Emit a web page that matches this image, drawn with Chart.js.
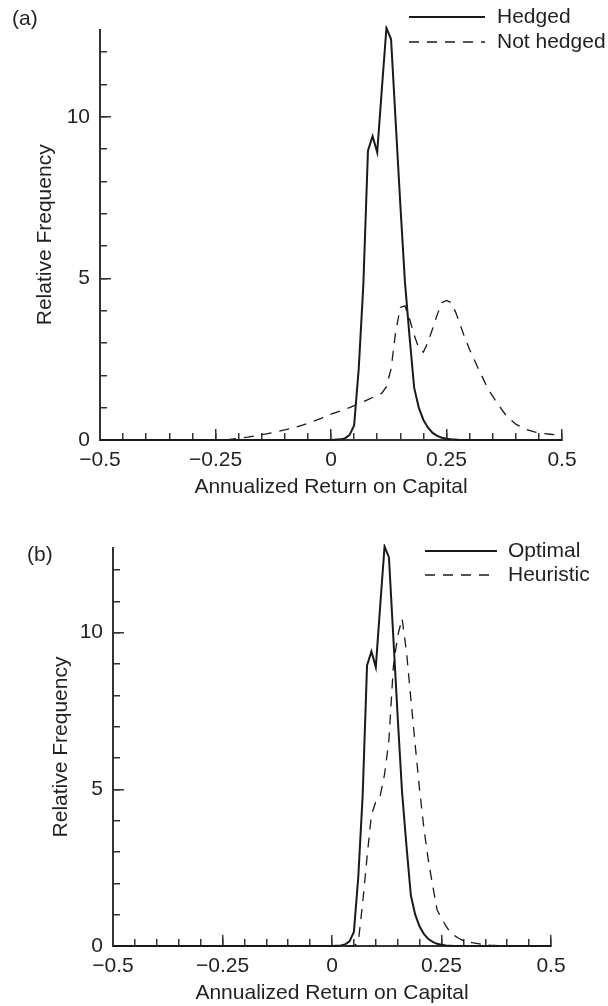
<!DOCTYPE html>
<html lang="en">
<head>
  <meta charset="utf-8" />
  <title>Annualized Return on Capital</title>
  <script src="https://cdn.jsdelivr.net/npm/chart.js@4.4.1/dist/chart.umd.min.js"></script>
  <style>
    html, body { margin: 0; padding: 0; background: #fff; }
    #wrap { position: relative; width: 608px; height: 1006px; }
    canvas { position: absolute; left: 0; }
    #chartA { top: 0; }
    #chartB { top: 500px; }
  </style>
</head>
<body>
<div id="wrap">
  <canvas id="chartA" width="608" height="500"></canvas>
  <canvas id="chartB" width="608" height="506"></canvas>
</div>
<script>
  // axis ranges and tick labels
  const xMin = -0.5, xMax = 0.5;
  const yMin = 0, yMax = 12.7;
  const xLabelValues = [-0.5, -0.25, 0, 0.25, 0.5];
  const xLabelTexts = ["\u22120.5", "\u22120.25", "0", "0.25", "0.5"];
  const yLabelValues = [0, 5, 10];

  // panel (a)
  const hedgedX = [-0.5, 0.00, 0.02, 0.03, 0.04, 0.05, 0.06, 0.07, 0.08, 0.09, 0.10, 0.11, 0.12, 0.13, 0.14, 0.15, 0.16, 0.17, 0.18, 0.19, 0.20, 0.21, 0.22, 0.23, 0.24, 0.25, 0.26, 0.28, 0.5];
  const hedgedY = [0, 0, 0.02, 0.05, 0.15, 0.45, 2.2, 4.8, 8.95, 9.4, 8.9, 10.85, 12.75, 12.4, 9.85, 7.3, 4.9, 3.2, 1.62, 1.0, 0.62, 0.38, 0.22, 0.13, 0.07, 0.04, 0.02, 0, 0];
  const notHedgedX = [-0.5, -0.24, -0.22, -0.2, -0.18, -0.16, -0.14, -0.12, -0.1, -0.08, -0.06, -0.04, -0.02, 0, 0.02, 0.04, 0.06, 0.08, 0.1, 0.11, 0.12, 0.13, 0.14, 0.15, 0.16, 0.17, 0.18, 0.19, 0.2, 0.21, 0.22, 0.23, 0.24, 0.25, 0.26, 0.27, 0.28, 0.29, 0.3, 0.32, 0.34, 0.36, 0.38, 0.4, 0.42, 0.44, 0.46, 0.48, 0.5];
  const notHedgedY = [0, 0, 0.02, 0.05, 0.09, 0.14, 0.19, 0.25, 0.31, 0.38, 0.47, 0.57, 0.68, 0.8, 0.9, 1.0, 1.12, 1.25, 1.38, 1.45, 1.65, 2.2, 3.35, 4.1, 4.15, 3.75, 3.25, 2.85, 2.72, 3.03, 3.45, 3.88, 4.25, 4.32, 4.25, 3.95, 3.55, 3.15, 2.8, 2.17, 1.58, 1.13, 0.74, 0.49, 0.34, 0.25, 0.2, 0.17, 0.15];

  // panel (b)
  const optimalX = [-0.5, 0.00, 0.02, 0.03, 0.04, 0.05, 0.06, 0.07, 0.08, 0.09, 0.10, 0.11, 0.12, 0.13, 0.14, 0.15, 0.16, 0.17, 0.18, 0.19, 0.20, 0.21, 0.22, 0.23, 0.24, 0.25, 0.26, 0.28, 0.5];
  const optimalY = [0, 0, 0.02, 0.05, 0.15, 0.45, 2.2, 4.8, 8.95, 9.4, 8.9, 10.85, 12.75, 12.4, 9.85, 7.3, 4.9, 3.2, 1.62, 1.0, 0.62, 0.38, 0.22, 0.13, 0.07, 0.04, 0.02, 0, 0];
  const heuristicX = [-0.5, 0.05, 0.06, 0.07, 0.08, 0.09, 0.10, 0.11, 0.12, 0.13, 0.14, 0.15, 0.16, 0.17, 0.18, 0.19, 0.20, 0.21, 0.22, 0.23, 0.24, 0.25, 0.26, 0.27, 0.28, 0.29, 0.30, 0.32, 0.34, 0.36, 0.38, 0.40, 0.5];
  const heuristicY = [0, 0, 0.12, 1.37, 2.83, 4.19, 4.6, 4.79, 5.48, 6.58, 8.9, 9.9, 10.45, 9.4, 7.89, 6.41, 4.98, 3.73, 2.73, 1.92, 1.15, 0.89, 0.64, 0.43, 0.33, 0.24, 0.17, 0.11, 0.06, 0.03, 0.01, 0, 0];

  const fontFamily = '"Liberation Sans", Arial, Helvetica, sans-serif';
  const fontSize = 21;
  const textColor = '#231f20';
  const axisColor = '#333333';
  const lineColor = '#1a1a1a';

  function toPoints(xs, ys) {
    return xs.map((x, i) => ({ x: x, y: ys[i] }));
  }

  function formatX(value) {
    const i = xLabelValues.findIndex(v => Math.abs(v - value) < 1e-9);
    return i < 0 ? '' : xLabelTexts[i];
  }

  function formatY(value) {
    return yLabelValues.some(v => Math.abs(v - value) < 1e-9) ? String(value) : '';
  }

  // panel tag "(a)" / "(b)" and the line legend in the top right corner
  const panelDecor = {
    id: 'panelDecor',
    afterDraw(chart, args, opts) {
      const ctx = chart.ctx;
      ctx.save();
      ctx.fillStyle = textColor;
      ctx.font = fontSize + 'px ' + fontFamily;
      ctx.textBaseline = 'middle';
      ctx.textAlign = 'left';
      ctx.fillText(opts.tag, opts.tagX, opts.tagY);
      chart.data.datasets.forEach((ds, i) => {
        const y = opts.rowY[i];
        ctx.beginPath();
        ctx.setLineDash(ds.borderDash || []);
        ctx.lineWidth = ds.borderWidth;
        ctx.strokeStyle = ds.borderColor;
        ctx.moveTo(opts.lineX, y);
        ctx.lineTo(opts.lineX + opts.lineLen, y);
        ctx.stroke();
        ctx.setLineDash([]);
        ctx.fillText(ds.label, opts.textX, y);
      });
      ctx.restore();
    }
  };

  function solidSet(label, xs, ys) {
    return { label: label, data: toPoints(xs, ys), borderColor: lineColor, borderWidth: 2,
             borderDash: [], pointRadius: 0, tension: 0, fill: false, clip: 4, xAxisID: 'x', yAxisID: 'y' };
  }

  function dashedSet(label, xs, ys) {
    return { label: label, data: toPoints(xs, ys), borderColor: lineColor, borderWidth: 1.3,
             borderDash: [10, 8], pointRadius: 0, tension: 0, fill: false, clip: 4, xAxisID: 'x', yAxisID: 'y' };
  }

  function makeChart(canvasId, datasets, lay) {
    const font = { family: fontFamily, size: fontSize };
    return new Chart(document.getElementById(canvasId), {
      type: 'line',
      data: { datasets: datasets },
      plugins: [panelDecor],
      options: {
        responsive: false,
        animation: false,
        events: [],
        layout: { padding: { left: 0, right: lay.padRight, top: lay.padTop, bottom: 0 } },
        plugins: {
          legend: { display: false },
          tooltip: { enabled: false },
          panelDecor: lay.decor
        },
        scales: {
          x: {
            type: 'linear', axis: 'x', position: 'bottom', min: xMin, max: xMax,
            afterFit: s => { s.height = 60; },
            border: { display: true, color: axisColor, width: 2 },
            grid: { drawOnChartArea: false, drawTicks: true, tickLength: -7, color: axisColor, lineWidth: 1.5 },
            ticks: { stepSize: 0.05, autoSkip: false, maxRotation: 0, padding: 15, color: textColor, font: font, callback: formatX },
            title: { display: true, text: 'Annualized Return on Capital', color: textColor, font: font, padding: { top: 0, bottom: 0 } }
          },
          xMajor: {
            type: 'linear', axis: 'x', position: { y: 0 }, min: xMin, max: xMax,
            border: { display: false },
            grid: { drawOnChartArea: false, drawTicks: true, tickLength: -11, color: axisColor, lineWidth: 1.5 },
            ticks: { stepSize: 0.25, display: false }
          },
          y: {
            type: 'linear', axis: 'y', position: 'left', min: yMin, max: yMax,
            afterFit: s => { s.width = lay.yWidth; },
            border: { display: true, color: axisColor, width: 2 },
            grid: { drawOnChartArea: false, drawTicks: true, tickLength: -7, color: axisColor, lineWidth: 1.5 },
            ticks: { stepSize: 1, includeBounds: false, autoSkip: false, padding: 17, color: textColor, font: font, callback: formatY },
            title: { display: true, text: 'Relative Frequency', color: textColor, font: font, padding: { top: lay.yTitlePad, bottom: 0 } }
          },
          yMajor: {
            type: 'linear', axis: 'y', position: { x: xMin }, min: yMin, max: yMax,
            border: { display: false },
            grid: { drawOnChartArea: false, drawTicks: true, tickLength: -11, color: axisColor, lineWidth: 1.5 },
            ticks: { stepSize: 5, includeBounds: false, display: false }
          }
        }
      }
    });
  }

  makeChart('chartA',
    [solidSet('Hedged', hedgedX, hedgedY), dashedSet('Not hedged', notHedgedX, notHedgedY)],
    { padRight: 46, padTop: 19, yWidth: 100, yTitlePad: 33,
      decor: { tag: '(a)', tagX: 12, tagY: 19, lineX: 409, lineLen: 76, textX: 497, rowY: [17, 42] } });

  makeChart('chartB',
    [solidSet('Optimal', optimalX, optimalY), dashedSet('Heuristic', heuristicX, heuristicY)],
    { padRight: 57, padTop: 48, yWidth: 113, yTitlePad: 49,
      decor: { tag: '(b)', tagX: 27, tagY: 55, lineX: 425, lineLen: 72, textX: 508, rowY: [51, 75] } });
</script>
</body>
</html>
